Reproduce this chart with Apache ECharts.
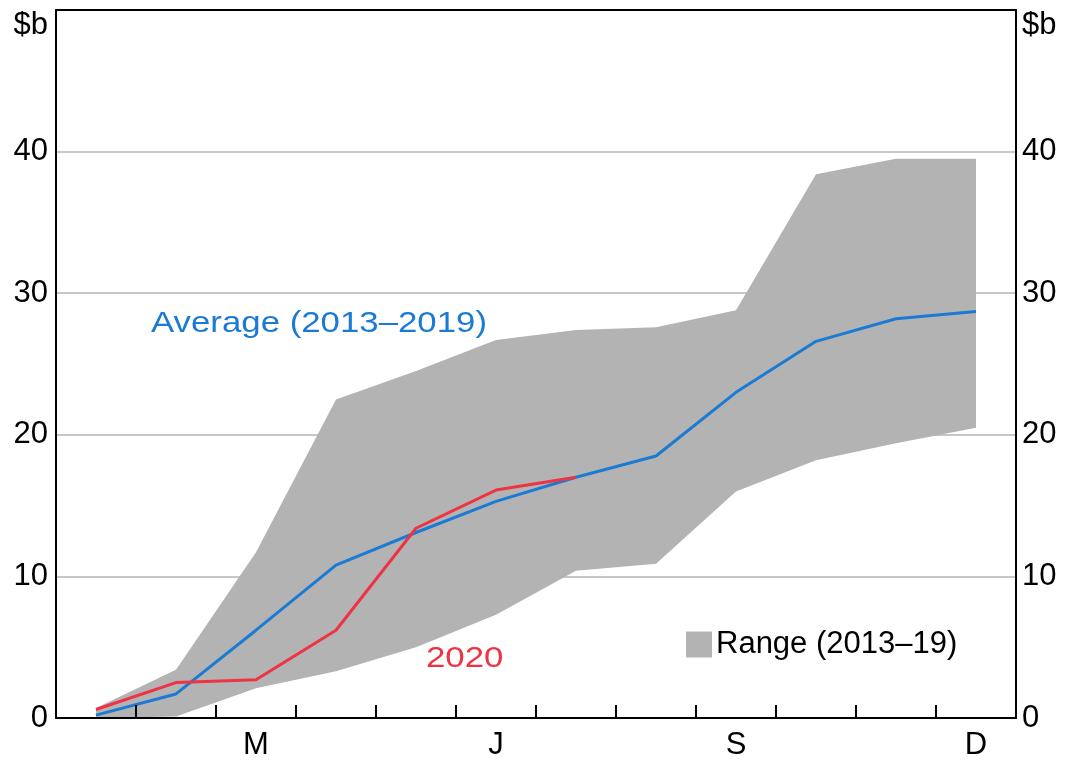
<!DOCTYPE html>
<html>
<head>
<meta charset="utf-8">
<script src="https://cdn.jsdelivr.net/npm/echarts@6/dist/echarts.min.js"></script>
<style>html,body{margin:0;padding:0;background:#fff}#c{width:1065px;height:763px}</style>
</head>
<body>
<div id="c"></div>
<script>
const months = ['J','F','M','A','M','J','J','A','S','O','N','D'];
const shownLabels = [2,5,8,11];
const average = [0.2, 1.7, 6.2, 10.8, 13.1, 15.3, 17.0, 18.5, 23.0, 26.6, 28.2, 28.7];
const y2020 = [0.6, 2.5, 2.7, 6.2, 13.4, 16.1, 17.0];
const rangeLow = [0.0, 0.1, 2.1, 3.3, 5.0, 7.3, 10.4, 10.9, 16.0, 18.2, 19.4, 20.5];
const rangeHigh = [0.7, 3.4, 11.7, 22.5, 24.5, 26.7, 27.4, 27.6, 28.8, 38.4, 39.5, 39.5];
const yTicks = [0, 10, 20, 30, 40, 50];
const unitLabel = '$b';

const FONT = 'Liberation Sans, Arial, sans-serif';
const BLUE = '#1b7bd4';
const RED = '#ee3344';
const GREY = '#b3b3b3';
const FS = 31;

const rangeSpan = rangeHigh.map((h, i) => +(h - rangeLow[i]).toFixed(2));

function yLabel(v) {
  if (v === yTicks[yTicks.length - 1]) return '{u|' + unitLabel + '}';
  return String(v);
}
const yLabelStyle = {
  formatter: yLabel, fontSize: FS, color: '#000', fontFamily: FONT,
  rich: { u: { fontSize: FS, fontFamily: FONT, color: '#000', padding: [30, 0, 0, 0] } }
};

const chart = echarts.init(document.getElementById('c'), null, { renderer: 'canvas' });
chart.setOption({
  animation: false,
  backgroundColor: '#fff',
  grid: { left: 56, right: 49, top: 10, bottom: 45, containLabel: false },
  legend: {
    data: ['Range (2013–19)'],
    left: 681, top: 624, icon: 'rect', itemWidth: 26, itemHeight: 26, itemGap: 6,
    textStyle: { fontSize: FS, fontFamily: FONT, color: '#000', padding: [0,0,0,-1] }
  },
  xAxis: [{
    type: 'category', data: months, boundaryGap: true, position: 'bottom', z: 5,
    axisLine: { onZero: false, lineStyle: { color: '#000', width: 2 } },
    axisTick: { show: true, inside: true, length: 13, interval: 0, lineStyle: { color: '#000', width: 2 } },
    axisLabel: { interval: (i) => shownLabels.indexOf(i) >= 0, fontSize: FS, fontFamily: FONT, color: '#000', margin: 12 },
    splitLine: { show: false }
  }, {
    type: 'category', data: months, position: 'top', z: 5,
    axisLine: { show: true, onZero: false, lineStyle: { color: '#000', width: 2 } },
    axisTick: { show: false }, axisLabel: { show: false }, splitLine: { show: false }
  }],
  yAxis: [{
    type: 'value', min: 0, max: 50, interval: 10, position: 'left', z: 0,
    axisLine: { show: true, onZero: false, lineStyle: { color: '#000', width: 2 } },
    axisTick: { show: false },
    axisLabel: Object.assign({ margin: 8 }, yLabelStyle),
    splitLine: { show: true, lineStyle: { color: '#b4b4b4', width: 1.5 } }
  }, {
    type: 'value', min: 0, max: 50, interval: 10, position: 'right', z: 0,
    axisLine: { show: true, onZero: false, lineStyle: { color: '#000', width: 2 } },
    axisTick: { show: false },
    axisLabel: Object.assign({ margin: 6 }, yLabelStyle),
    splitLine: { show: false }
  }],
  series: [{
    name: 'rangeBase', type: 'line', stack: 'range', data: rangeLow,
    symbol: 'none', lineStyle: { width: 0, opacity: 0 }, silent: true, z: 1
  }, {
    name: 'Range (2013–19)', type: 'line', stack: 'range', data: rangeSpan,
    symbol: 'none', lineStyle: { width: 0, opacity: 0 },
    itemStyle: { color: GREY },
    areaStyle: { color: GREY, opacity: 1 }, z: 1
  }, {
    name: 'Average (2013–2019)', type: 'line', data: average, symbol: 'none',
    lineStyle: { color: BLUE, width: 3 }, itemStyle: { color: BLUE }, z: 3
  }, {
    name: '2020', type: 'line', data: y2020, symbol: 'none',
    lineStyle: { color: RED, width: 3 }, itemStyle: { color: RED }, z: 4
  }],
  graphic: [{
    type: 'text', x: 151, y: 309, scaleX: 1.16, z: 10,
    style: { text: 'Average (2013–2019)', fill: BLUE, font: '30px ' + FONT, textVerticalAlign: 'top' }
  }, {
    type: 'text', x: 426, y: 644, scaleX: 1.16, z: 10,
    style: { text: '2020', fill: RED, font: '30px ' + FONT, textVerticalAlign: 'top' }
  }]
});
</script>
</body>
</html>
